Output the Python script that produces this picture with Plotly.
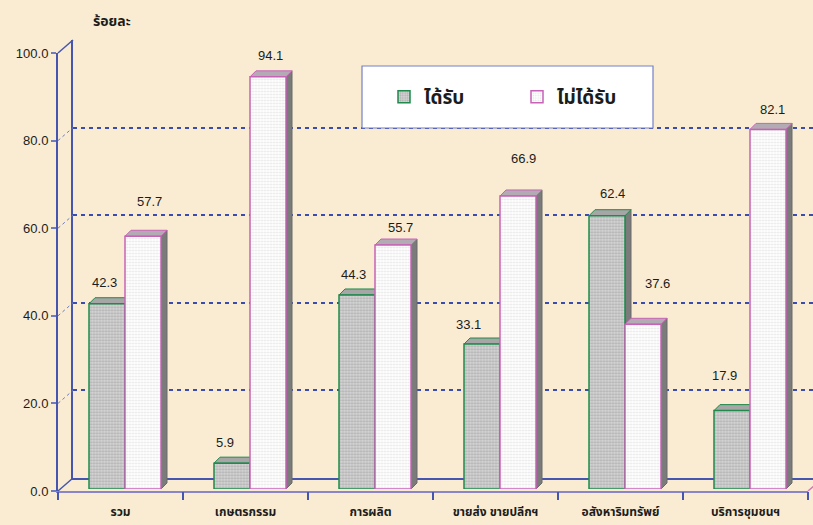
import plotly.graph_objects as go

# ---------------- data ----------------
categories = ["รวม", "เกษตรกรรม", "การผลิต", "ขายส่ง ขายปลีกฯ", "อสังหาริมทรัพย์", "บริการชุมชนฯ"]
received = [42.3, 5.9, 44.3, 33.1, 62.4, 17.9]
not_received = [57.7, 94.1, 55.7, 66.9, 37.6, 82.1]
series_names = ["ได้รับ", "ไม่ได้รับ"]
y_ticks = [0, 20, 40, 60, 80, 100]
y_title = "ร้อยละ"

# label offsets (px) relative to bar top centre, as placed in the original
label_dx = [[-3, -7, -4, -14, 5, -8], [6, 2, 7, 5, 14, 4]]
label_dy = [[21, 21, 20, 20, 22, 35], [35, 21, 18, 37, 41, 20]]

# ---------------- geometry ----------------
W, H = 813, 525
FX0, FX1 = 58, 808          # front frame x (px)
FY0, FY100 = 491, 53        # front frame y for 0 and 100 (px)
BACK = (15, -13)            # back wall offset
MID = (4.5, -2)             # bar plane offset
DEPTH = (6, -6)             # bar depth
n = len(categories)
PXU = (FX1 - FX0) / n       # px per category
PYU = (FY0 - FY100) / 100   # px per value unit
BARGAP = 0.424
bw = (1 - BARGAP) / 2

def px(x):
    return x / W

def py(y):
    return (H - y) / H

def xdom(x0):
    x1 = min(W, x0 + n * PXU)
    return [px(x0), px(x1)], [-0.5, -0.5 + (x1 - x0) / PXU]

AX_BLUE = "#4656b0"
GRID_BLUE = "#3a4cae"
GREEN = "#1f8a4c"
PINK = "#c763b6"
BG = "#f9ecd3"
TXT = "#1c1c1c"
THAI = "Noto Sans Thai, Tahoma, DejaVu Sans, sans-serif"
LAT = "Liberation Sans, Arial, sans-serif"

fig = go.Figure()

xs = list(range(n))
# invisible helpers so the back-wall and front-frame subplots are drawn
fig.add_trace(go.Scatter(x=[None], y=[None], xaxis="x", yaxis="y", showlegend=False, hoverinfo="skip"))
fig.add_trace(go.Bar(
    x=xs, y=received, name=f"<b>{series_names[0]}</b>", xaxis="x2", yaxis="y2",
    marker=dict(color="#d2d2d2", line=dict(color=GREEN, width=1.5),
                pattern=dict(shape=".", fgcolor="#8c8c8c", bgcolor="#d6d6d6", size=3, solidity=0.45)),
))
fig.add_trace(go.Bar(
    x=xs, y=not_received, name=f"<b>{series_names[1]}</b>", xaxis="x2", yaxis="y2",
    marker=dict(color="#ffffff", line=dict(color=PINK, width=1.5),
                pattern=dict(shape=".", fgcolor="#cdcdcd", bgcolor="#ffffff", size=3, solidity=0.4)),
))
fig.add_trace(go.Scatter(x=[None], y=[None], xaxis="x3", yaxis="y3", showlegend=False, hoverinfo="skip"))
fig.add_trace(go.Scatter(x=[None], y=[None], xaxis="x4", yaxis="y3", showlegend=False, hoverinfo="skip"))

# ---------- 3D faces of the bars (data coords of the bar subplot) ----------
ddx = DEPTH[0] / PXU
ddy = -DEPTH[1] / PYU
shapes = []
for s, (vals, line_c, top_c) in enumerate([(received, GREEN, "#a6a6a6"), (not_received, PINK, "#b3abb3")]):
    for i, v in enumerate(vals):
        xl = i - bw + s * bw
        xr = xl + bw
        shapes.append(dict(type="path", xref="x2", yref="y2", layer="below",
                           path=f"M{xr},0 L{xr},{v} L{xr+ddx},{v+ddy} L{xr+ddx},{ddy} Z",
                           fillcolor="#7b7b7b", line=dict(color="#6a6a6a", width=1)))
        shapes.append(dict(type="path", xref="x2", yref="y2", layer="below",
                           path=f"M{xl},{v} L{xl+ddx},{v+ddy} L{xr+ddx},{v+ddy} L{xr},{v} Z",
                           fillcolor=top_c, line=dict(color=line_c, width=1)))

# ---------- depth connectors on the left wall ----------
for t in y_ticks:
    yf = FY0 - t * PYU
    edge = t in (0, 100)
    shapes.append(dict(type="line", xref="paper", yref="paper",
                       x0=px(FX0), y0=py(yf), x1=px(FX0 + BACK[0]), y1=py(yf + BACK[1]),
                       line=dict(color=AX_BLUE if edge else "#6f7cc0", width=1.5 if edge else 1,
                                 dash="solid" if edge else "dot")))
shapes.append(dict(type="line", xref="paper", yref="paper",
                   x0=px(FX1), y0=py(FY0), x1=px(FX1 + BACK[0]), y1=py(FY0 + BACK[1]),
                   line=dict(color="#d27ab8", width=1.5)))

# ---------- legend box ----------
shapes.append(dict(type="rect", xref="paper", yref="paper", layer="above",
                   x0=px(362), x1=px(653), y0=py(128), y1=py(66),
                   fillcolor="#ffffff", line=dict(color="#7480c6", width=1.2)))

# ---------- value labels ----------
annotations = []
for s, vals in enumerate([received, not_received]):
    for i, v in enumerate(vals):
        xc = i - bw / 2 + s * bw
        annotations.append(dict(xref="x2", yref="y2", x=xc, y=v, text=f"{v:.1f}",
                                showarrow=False, xanchor="center", yanchor="middle",
                                xshift=label_dx[s][i], yshift=label_dy[s][i],
                                font=dict(family=LAT, size=13, color=TXT)))
annotations.append(dict(xref="paper", yref="paper", x=px(112), y=py(21), text=f"<b>{y_title}</b>",
                        showarrow=False, xanchor="center", yanchor="middle",
                        font=dict(family=THAI, size=14, color=TXT)))

xb_dom, xb_rng = xdom(FX0 + BACK[0])
xm_dom, xm_rng = xdom(FX0 + MID[0])

fig.update_layout(
    width=W, height=H, autosize=False,
    margin=dict(l=0, r=0, t=0, b=0, pad=0, autoexpand=False),
    paper_bgcolor=BG, plot_bgcolor="rgba(0,0,0,0)",
    barmode="group", bargap=BARGAP, bargroupgap=0,
    showlegend=True,
    legend=dict(orientation="h", x=px(384), y=py(97), xanchor="left", yanchor="middle",
                bgcolor="rgba(0,0,0,0)", borderwidth=0, entrywidth=88,
                font=dict(family=THAI, size=19, color=TXT), itemclick=False),
    # back wall (gridlines)
    xaxis=dict(domain=xb_dom, range=xb_rng, anchor="y", showgrid=False, zeroline=False,
               showticklabels=False, ticks="", showline=True, linecolor=AX_BLUE, linewidth=1.5),
    yaxis=dict(domain=[py(FY0 + BACK[1]), py(FY100 + BACK[1])], range=[0, 100], anchor="x",
               tickmode="array", tickvals=y_ticks[1:], showgrid=True, gridcolor=GRID_BLUE, gridwidth=2,
               griddash="4px,4px", zeroline=False, showticklabels=False, ticks="",
               showline=True, linecolor=AX_BLUE, linewidth=1.5),
    # bar plane
    xaxis2=dict(domain=xm_dom, range=xm_rng, anchor="y2", visible=False),
    yaxis2=dict(domain=[py(FY0 + MID[1]), py(FY100 + MID[1])], range=[0, 100], anchor="x2", visible=False),
    # front frame
    xaxis3=dict(domain=[px(FX0), px(FX1)], range=[-0.5, n - 0.5], anchor="y3",
                tickmode="array", tickvals=xs, ticktext=[f"<b>{c}</b>" for c in categories],
                ticks="outside", ticklen=9, tickcolor="rgba(0,0,0,0)",
                showgrid=False, zeroline=False, showline=True, linecolor="#8a84c8", linewidth=2,
                tickfont=dict(family=THAI, size=12, color=TXT)),
    xaxis4=dict(overlaying="x3", range=[-0.5, n - 0.5], anchor="y3", side="bottom",
                tickmode="array", tickvals=[i - 0.5 for i in range(n + 1)], ticks="outside",
                ticklen=8, tickcolor=AX_BLUE, tickwidth=1.5, showticklabels=False,
                showgrid=False, zeroline=False, showline=False),
    yaxis3=dict(domain=[py(FY0), py(FY100)], range=[0, 100], anchor="x3",
                tickmode="array", tickvals=y_ticks, tickformat=".1f", ticks="outside", ticklen=5,
                tickcolor="#6f7cc0", tickwidth=1.5, showgrid=False, zeroline=False,
                showline=True, linecolor=AX_BLUE, linewidth=2,
                tickfont=dict(family=LAT, size=13, color=TXT)),
    shapes=shapes,
    annotations=annotations,
)

fig.write_html("out.html",
               config={"responsive": False, "displayModeBar": False},
               post_script="document.body.style.margin='0';document.body.style.overflow='hidden';")
